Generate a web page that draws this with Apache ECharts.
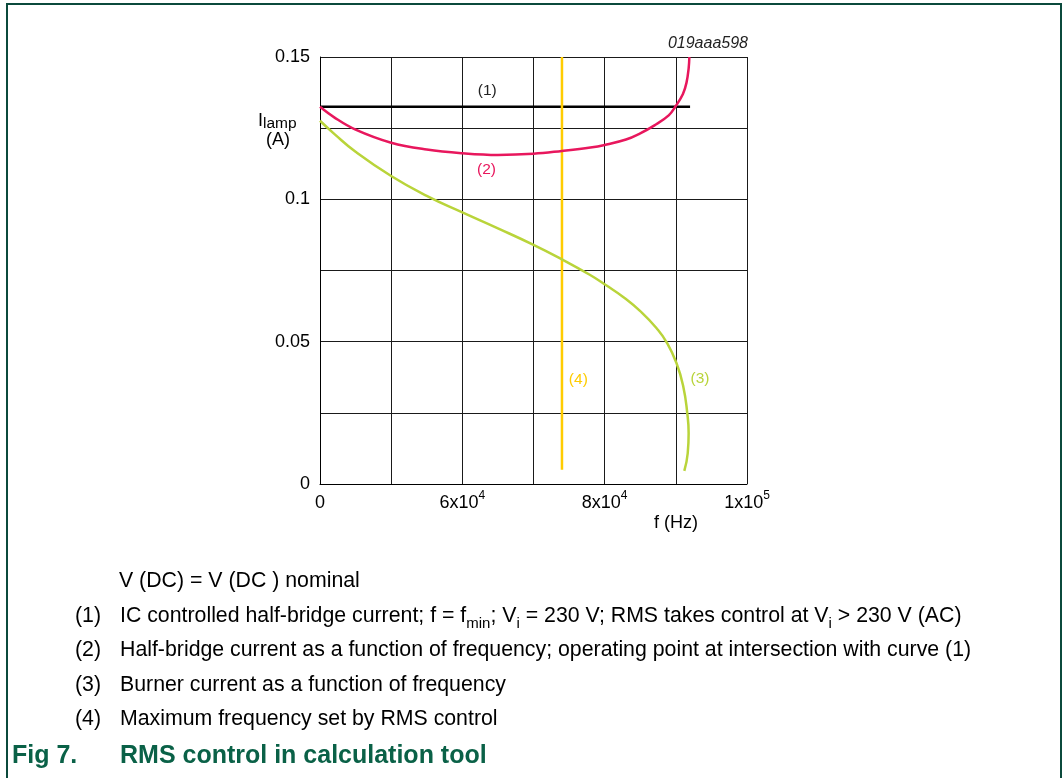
<!DOCTYPE html>
<html>
<head>
<meta charset="utf-8">
<script src="https://cdn.jsdelivr.net/npm/echarts@6/dist/echarts.min.js"></script>
<style>
html,body{margin:0;padding:0;background:#fff;}
#chart{width:1063px;height:778px;}
</style>
</head>
<body>
<div id="chart"></div>
<script>
// ---- data (frequency in Hz, current in A) ----
const xTickLabels = {40000: '{b|0}', 60000: '{b|6x10}{sup|4}', 80000: '{b|8x10}{sup|4}', 100000: '{b|1x10}{sup|5}'};
const yTickLabels = {0: '0', 0.05: '0.05', 0.1: '0.1', 0.15: '0.15'};

const curve1 = [[40000, 0.1325], [92000, 0.1325]];
const curve2 = [
  [40000, 0.1325], [42000, 0.1288], [45000, 0.1245], [50000, 0.1199], [55000, 0.1175],
  [60000, 0.1162], [65000, 0.1156], [70000, 0.1160], [74000, 0.1170], [78000, 0.1182],
  [80000, 0.1191], [83000, 0.1210], [85000, 0.1232], [87000, 0.1260], [89000, 0.1295],
  [90000, 0.1328], [91000, 0.1370], [91500, 0.1410], [91800, 0.1460], [91900, 0.1500]
];
const curve3 = [
  [40000, 0.1276], [42000, 0.1230], [45000, 0.1167], [50000, 0.1082], [55000, 0.1012],
  [60000, 0.0954], [65000, 0.0898], [70000, 0.0840], [74000, 0.0789], [77900, 0.0735],
  [80150, 0.0699], [82600, 0.0657], [85000, 0.0607], [87300, 0.0547], [88750, 0.0496],
  [90100, 0.0424], [91050, 0.0342], [91600, 0.0250], [91800, 0.0178], [91670, 0.0108],
  [91190, 0.0046]
];
const curve4 = [[74000, 0.005], [74000, 0.15]];

const curveLabels = [
  {text: '(1)', x: 63500, y: 0.1380, color: '#222222'},
  {text: '(2)', x: 63400, y: 0.1104, color: '#e8175d'},
  {text: '(3)', x: 93400, y: 0.0369, color: '#b9d43a'},
  {text: '(4)', x: 76300, y: 0.0365, color: '#ffcc00'}
];

const notes = [
  ['(1)', '{t|IC controlled half-bridge current; f = f}{sub|min}{t|; V}{sub|i}{t| = 230 V; RMS takes control at V}{sub|i}{t| > 230 V (AC)}'],
  ['(2)', '{t|Half-bridge current as a function of frequency; operating point at intersection with curve (1)}'],
  ['(3)', '{t|Burner current as a function of frequency}'],
  ['(4)', '{t|Maximum frequency set by RMS control}']
];

const FONT = '"Liberation Sans", Arial, sans-serif';
const chart = echarts.init(document.getElementById('chart'), null, {renderer: 'canvas'});

const option = {
  backgroundColor: '#ffffff',
  animation: false,
  grid: {left: 320, top: 57, width: 427, height: 427, containLabel: false},
  xAxis: {
    type: 'value', min: 40000, max: 100000, interval: 10000,
    axisLine: {show: true, lineStyle: {color: '#000', width: 1}},
    axisTick: {show: false},
    splitLine: {show: true, lineStyle: {color: '#1a1a1a', width: 1}},
    axisLabel: {
      margin: 6, color: '#000', fontFamily: FONT, fontSize: 18,
      formatter: v => xTickLabels[v] || '',
      rich: {
        b: {fontSize: 18, fontFamily: FONT, color: '#000', lineHeight: 26, verticalAlign: 'middle'},
        sup: {fontSize: 12, fontFamily: FONT, color: '#000', lineHeight: 13, verticalAlign: 'top'}
      }
    }
  },
  yAxis: {
    type: 'value', min: 0, max: 0.15, interval: 0.025,
    axisLine: {show: true, lineStyle: {color: '#000', width: 1}},
    axisTick: {show: false},
    splitLine: {show: true, lineStyle: {color: '#1a1a1a', width: 1}},
    axisLabel: {
      margin: 10, color: '#000', fontFamily: FONT, fontSize: 18,
      formatter: v => {
        const k = Math.round(v * 1000) / 1000;
        return yTickLabels[k] !== undefined ? yTickLabels[k] : '';
      }
    }
  },
  series: [
    {type: 'line', data: curve1, symbol: 'none', lineStyle: {color: '#000', width: 2.5}, z: 3},
    {type: 'line', data: curve4, symbol: 'none', lineStyle: {color: '#ffcc00', width: 2.5}, z: 4},
    {type: 'line', data: curve2, symbol: 'none', smooth: 0.4, lineStyle: {color: '#e8175d', width: 2.5}, z: 5},
    {type: 'line', data: curve3, symbol: 'none', smooth: 0.5, lineStyle: {color: '#b9d43a', width: 2.5}, z: 5}
  ]
};
chart.setOption(option);

const g = [];
// frame
g.push({type: 'polyline', shape: {points: [[7, 790], [7, 4], [1061, 4], [1061, 790]]},
  style: {stroke: '#0b4a3c', lineWidth: 2, fill: null}, silent: true});
// curve labels
curveLabels.forEach(l => {
  const p = chart.convertToPixel({gridIndex: 0}, [l.x, l.y]);
  g.push({type: 'text', x: p[0], y: p[1],
    style: {text: l.text, fill: l.color, font: '15.5px ' + FONT, textAlign: 'center', textVerticalAlign: 'middle'}});
});
// figure id
g.push({type: 'text', x: 748, y: 44, style: {text: '019aaa598', fill: '#222', font: 'italic 16px ' + FONT, textAlign: 'right', textVerticalAlign: 'middle'}});
// y axis name
g.push({type: 'text', x: 258, y: 121, style: {
  text: '{t|I}{sub|lamp}', textVerticalAlign: 'middle',
  rich: {
    t: {fontSize: 18, fontFamily: FONT, fill: '#000', lineHeight: 22, verticalAlign: 'middle'},
    sub: {fontSize: 15.5, fontFamily: FONT, fill: '#000', lineHeight: 15, verticalAlign: 'bottom'}
  }
}});
g.push({type: 'text', x: 278, y: 140, style: {text: '(A)', fill: '#000', font: '18px ' + FONT, textAlign: 'center', textVerticalAlign: 'middle'}});
// x axis name
g.push({type: 'text', x: 676, y: 523, style: {text: 'f (Hz)', fill: '#000', font: '18px ' + FONT, textAlign: 'center', textVerticalAlign: 'middle'}});
// notes
const NF = 21.3;
g.push({type: 'text', x: 119, y: 581, style: {text: 'V (DC) = V (DC ) nominal', fill: '#000', font: NF + 'px ' + FONT, textVerticalAlign: 'middle'}});
const noteY = [616, 650, 685, 719];
const noteRich = {
  t: {fontSize: NF, fontFamily: FONT, fill: '#000', lineHeight: 30, verticalAlign: 'middle'},
  sub: {fontSize: 15, fontFamily: FONT, fill: '#000', lineHeight: 16, verticalAlign: 'bottom'}
};
notes.forEach((n, i) => {
  g.push({type: 'text', x: 75, y: noteY[i], style: {text: n[0], fill: '#000', font: NF + 'px ' + FONT, textVerticalAlign: 'middle'}});
  g.push({type: 'text', x: 120, y: noteY[i], style: {text: n[1], textVerticalAlign: 'middle', rich: noteRich}});
});
g.push({type: 'text', x: 12, y: 756, style: {text: 'Fig 7.', fill: '#0a6147', font: 'bold 25px ' + FONT, textVerticalAlign: 'middle'}});
g.push({type: 'text', x: 120, y: 756, style: {text: 'RMS control in calculation tool', fill: '#0a6147', font: 'bold 25px ' + FONT, textVerticalAlign: 'middle'}});

chart.setOption({graphic: g});
</script>
</body>
</html>
